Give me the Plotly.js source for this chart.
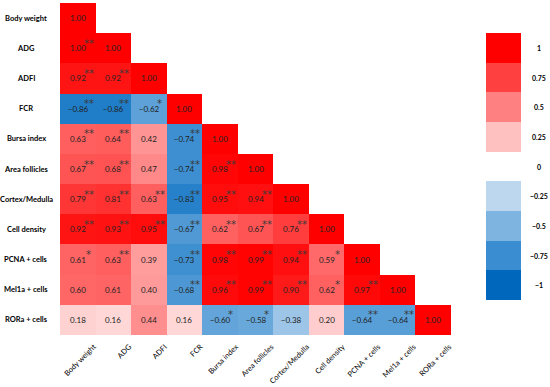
<!DOCTYPE html>
<html><head><meta charset="utf-8">
<script src="https://cdn.plot.ly/plotly-3.0.1.min.js"></script>
<style>body{margin:0;background:#fff}#c{width:550px;height:387px}</style>
</head><body><div id="c"></div>
<script>
const labels = ['Body weight','ADG','ADFI','FCR','Bursa index','Area follicles','Cortex/Medulla','Cell density','PCNA + cells','Mel1a + cells','RORa + cells'];
const corrRows = [
  [1.00],
  [1.00,1.00],
  [0.92,0.92,1.00],
  [-0.86,-0.86,-0.62,1.00],
  [0.63,0.64,0.42,-0.74,1.00],
  [0.67,0.68,0.47,-0.74,0.98,1.00],
  [0.79,0.81,0.63,-0.83,0.95,0.94,1.00],
  [0.92,0.93,0.95,-0.67,0.62,0.67,0.76,1.00],
  [0.61,0.63,0.39,-0.73,0.98,0.99,0.94,0.59,1.00],
  [0.60,0.61,0.40,-0.68,0.96,0.99,0.90,0.62,0.97,1.00],
  [0.18,0.16,0.44,0.16,-0.60,-0.58,-0.38,0.20,-0.64,-0.64,1.00]
];
const sigRows = [
  [''],
  ['**',''],
  ['**','**',''],
  ['**','**','*',''],
  ['**','**','','**',''],
  ['**','**','','**','**',''],
  ['**','**','**','**','**','**',''],
  ['**','**','**','**','**','**','**',''],
  ['*','**','','**','**','**','**','*',''],
  ['','','','**','**','**','**','*','**',''],
  ['','','','','*','*','','','**','**','']
];
const scaleValues = [1,0.75,0.5,0.25,0,-0.25,-0.5,-0.75,-1];
const scaleLabels = ['1','0.75','0.5','0.25','0','\u22120.25','\u22120.5','\u22120.75','\u22121'];

const colorscale = [
  [0,'#0068bc'],[0.125,'#3a8dd0'],[0.25,'#7eb4e0'],[0.375,'#bdd7ee'],[0.5,'#ffffff'],
  [0.625,'#ffc0c0'],[0.75,'#ff8080'],[0.875,'#ff4040'],[1,'#ff0000']
];
const n = labels.length;
const z = [], txt = [];
for (let i=0;i<n;i++){
  const zr=[], tr=[];
  for (let j=0;j<n;j++){
    if (j<=i){ const v=corrRows[i][j]; zr.push(v); tr.push(v.toFixed(2).replace('-','\u2212')); }
    else { zr.push(null); tr.push(''); }
  }
  z.push(zr); txt.push(tr);
}
const FONT = 'Lato, "Open Sans", sans-serif';
const annotations = [];
for (let i=0;i<n;i++){
  for (let j=0;j<=i;j++){
    if (sigRows[i][j]) annotations.push({x:labels[j], y:labels[i], xref:'x', yref:'y', text:sigRows[i][j],
      showarrow:false, xshift:11, yshift:5, xanchor:'center', font:{family:'"DejaVu Sans", sans-serif',size:10,color:'#3a3a3a'}});
  }
  annotations.push({x:-0.07, xref:'paper', y:labels[i], yref:'y', text:'<b>'+labels[i]+'</b>', showarrow:false,
    xanchor:'center', font:{family:FONT,size:7.5,color:'#000'}});
}
scaleValues.forEach((v,k)=>annotations.push({x:0.998, xref:'paper', y:v, yref:'y2', text:'<b>'+scaleLabels[k]+'</b>',
  showarrow:false, xanchor:'center', font:{family:FONT,size:7,color:'#000'}}));

const traces = [
  {type:'heatmap', x:labels, y:labels, z:z, text:txt, texttemplate:'%{text}', textfont:{family:FONT,size:8,color:'#222'},
   colorscale:colorscale, zmin:-1, zmax:1, showscale:false, hoverongaps:false},
  {type:'heatmap', x:[0], y:scaleValues, z:scaleValues.map(v=>[v]), colorscale:colorscale, zmin:-1, zmax:1,
   showscale:false, xaxis:'x2', yaxis:'y2'}
];
const layout = {
  width:550, height:387, margin:{l:60,r:10,t:3,b:52}, paper_bgcolor:'#fff', plot_bgcolor:'#fff',
  font:{family:FONT},
  xaxis:{domain:[0,0.8146], tickangle:-45, tickfont:{family:FONT,size:7.5,color:'#000'}, showgrid:false, zeroline:false,
    ticks:'', ticklabelstandoff:5, ticklabelshift:16},
  yaxis:{autorange:'reversed', showticklabels:false, showgrid:false, zeroline:false, ticks:''},
  xaxis2:{domain:[0.8875,0.9604], anchor:'y2', visible:false},
  yaxis2:{domain:[0.1054,0.9096], anchor:'x2', range:[-1.125,1.125], visible:false},
  annotations:annotations, showlegend:false
};
Plotly.newPlot('c', traces, layout, {displayModeBar:false, staticPlot:true});
</script></body></html>
